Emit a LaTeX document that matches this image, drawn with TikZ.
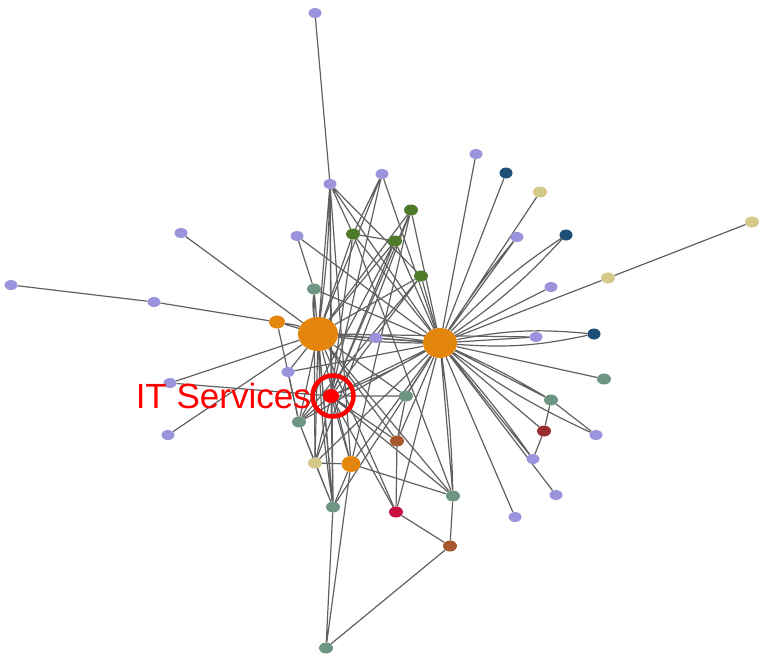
\documentclass[tikz,border=0pt]{standalone}
\usepackage{fontspec}
\newfontfamily\labelfont{Liberation Sans}
\usepackage{xcolor}
\usepackage{tikz}
\usetikzlibrary{shapes.geometric, positioning, backgrounds}

\definecolor{lavender}{HTML}{9B93DB}
\definecolor{navyblue}{HTML}{1F4E79}
\definecolor{khaki}{HTML}{D2C98A}
\definecolor{moss}{HTML}{4F7A2A}
\definecolor{sage}{HTML}{6E9482}
\definecolor{amber}{HTML}{E3860B}
\definecolor{rust}{HTML}{A6572B}
\definecolor{crimson}{HTML}{C8103E}
\definecolor{maroon}{HTML}{9A2B30}
\definecolor{linkgray}{HTML}{606060}

\tikzset{
  dot/.style={ellipse, inner sep=0pt, minimum width=13pt, minimum height=10pt},
  lav/.style={dot, fill=lavender},
  nav/.style={dot, fill=navyblue, minimum height=11pt},
  kha/.style={dot, fill=khaki, minimum width=14pt, minimum height=11pt},
  mos/.style={dot, fill=moss, minimum width=14pt, minimum height=11pt},
  sag/.style={dot, fill=sage, minimum width=14pt, minimum height=11pt},
  amb/.style={dot, fill=amber},
  rus/.style={dot, fill=rust, minimum width=14pt, minimum height=11pt},
  hub/.style={dot, fill=amber},
  link/.style={draw=linkgray, line width=1.2pt},
  ring/.style={circle, draw=red, line width=4.5pt, minimum size=41pt, inner sep=0pt},
  itlabel/.style={text=red, font=\labelfont\fontsize{35}{35}\selectfont, inner sep=0pt}
}

\begin{document}
\begin{tikzpicture}[x=1pt, y=-1pt]
  \useasboundingbox (0,0) rectangle (761,657);

  % hubs
  \node[hub, minimum width=40pt, minimum height=34pt] (hubA) at (318,334) {};
  \node[hub, minimum width=34pt, minimum height=30pt] (hubB) at (440,343) {};

  % lavender leaves
  \node[lav] (lavA) at (315,13) {};
  \node[lav] (lavB) at (330,184) {};
  \node[lav] (lavC) at (382,174) {};
  \node[lav] (lavD) at (297,236) {};
  \node[lav] (lavE) at (181,233) {};
  \node[lav] (lavF) at (11,285) {};
  \node[lav] (lavG) at (154,302) {};
  \node[lav] (lavH) at (376,338) {};
  \node[lav] (lavI) at (288,372) {};
  \node[lav] (lavJ) at (170,383) {};
  \node[lav] (lavK) at (168,435) {};
  \node[lav] (lavL) at (476,154) {};
  \node[lav] (lavM) at (517,237) {};
  \node[lav] (lavN) at (551,287) {};
  \node[lav] (lavO) at (536,337) {};
  \node[lav] (lavP) at (596,435) {};
  \node[lav] (lavQ) at (533,459) {};
  \node[lav] (lavR) at (556,495) {};
  \node[lav] (lavS) at (515,517) {};

  % other groups
  \node[nav] (navA) at (506,173) {};
  \node[nav] (navB) at (566,235) {};
  \node[nav] (navC) at (594,334) {};
  \node[kha] (khaA) at (540,192) {};
  \node[kha] (khaB) at (608,278) {};
  \node[kha] (khaC) at (752,222) {};
  \node[kha] (khaD) at (315,463) {};
  \node[mos] (mosA) at (411,210) {};
  \node[mos] (mosB) at (353,234) {};
  \node[mos] (mosC) at (395,241) {};
  \node[mos] (mosD) at (421,276) {};
  \node[sag] (sagA) at (314,289) {};
  \node[sag] (sagB) at (299,422) {};
  \node[sag] (sagC) at (406,396) {};
  \node[sag] (sagD) at (333,507) {};
  \node[sag] (sagE) at (453,496) {};
  \node[sag] (sagF) at (604,379) {};
  \node[sag] (sagG) at (551,400) {};
  \node[sag] (sagH) at (326,648) {};
  \node[amb, minimum width=16pt, minimum height=13pt] (ambA) at (277,322) {};
  \node[amb, minimum width=19pt, minimum height=16pt] (ambB) at (351,464) {};
  \node[rus] (rusA) at (397,441) {};
  \node[rus] (rusB) at (450,546) {};
  \node[dot, fill=crimson, minimum width=14pt, minimum height=11pt] (crim) at (396,512) {};
  \node[dot, fill=maroon, minimum width=14pt, minimum height=11pt] (maro) at (544,431) {};

  % highlighted node
  \node[dot, fill=red, minimum width=16pt, minimum height=14pt] (it) at (331,396) {};
  \node[ring] (itring) at (333,396) {};
  \node[itlabel, anchor=base east] (itname) at (311,408) {IT Services};

  \begin{scope}[on background layer]
    % upper left part
    \draw[link] (lavA) -- (lavB) (lavB) -- (hubA) (lavB) to[bend left=3] (hubA) (lavB) -- (it) (lavB) -- (sagD) (lavB) -- (ambB);
    \draw[link] (lavB) -- (mosB) (lavB) -- (hubB) (lavB) -- (mosD) (lavC) -- (mosB) (lavC) -- (hubA) (lavC) -- (hubB) (lavC) -- (it);
    \draw[link] (lavD) -- (sagA) (lavD) -- (hubB) (lavE) -- (hubA) (lavF) -- (lavG) (lavG) -- (ambA);
    \draw[link] (ambA) -- (hubA) (ambA) to[bend left=6] (hubA) (ambA) -- (sagB) (lavJ) -- (hubA) (lavJ) -- (it) (lavK) -- (hubA);
    \draw[link] (lavH) -- (hubA) (lavH) -- (hubB) (lavI) -- (hubA) (lavI) -- (hubB) (lavI) -- (sagB);
    % moss group
    \draw[link] (mosA) -- (hubA) (mosA) -- (hubB) (mosA) -- (it) (mosB) -- (mosC) (mosB) -- (hubA) (mosB) -- (hubB);
    \draw[link] (mosB) -- (sagE) (mosB) -- (it) (mosC) -- (hubA) (mosC) -- (hubB) (mosC) -- (it) (mosC) -- (sagB);
    \draw[link] (mosD) -- (hubA) (mosD) -- (hubB) (mosD) -- (it) (mosA) -- (ambB) (mosA) -- (khaD) (mosD) -- (sagB);
    \draw[link] (sagA) -- (hubA) (sagA) to[bend right=8] (hubA) (sagA) -- (hubB) (sagA) -- (khaD) (sagA) -- (sagD);
    % fan of hubB
    \draw[link] (hubB) -- (lavL) (hubB) -- (navA) (hubB) -- (khaA) (hubB) -- (lavM) (hubB) to[bend left=3] (lavM);
    \draw[link] (hubB) to[bend left=6] (navB) (hubB) to[bend right=6] (navB) (hubB) -- (khaB) (khaB) -- (khaC);
    \draw[link] (hubB) -- (lavN) (hubB) -- (lavO) (hubB) to[bend left=8] (navC) (hubB) to[bend right=8] (navC);
    \draw[link] (hubB) -- (sagF) (hubB) -- (sagG) (hubB) to[bend left=3] (sagG) (sagG) -- (maro) (sagG) -- (lavP);
    \draw[link] (hubB) to[bend right=5] (lavP) (hubB) -- (maro) (maro) -- (lavQ) (hubB) -- (lavQ) (hubB) to[bend left=3] (lavQ);
    \draw[link] (hubB) -- (lavR) (hubB) -- (lavS) (hubB) -- (sagE) (hubB) to[bend left=3] (sagE);
    % between the hubs
    \draw[link] (hubA) -- (hubB) (hubA) to[bend left=4] (hubB) (hubA) to[bend right=4] (hubB) (hubA) -- (lavO);
    % lower part
    \draw[link] (hubB) -- (it) (hubB) to[bend left=4] (it) (hubB) -- (sagB) (hubB) -- (khaD) (hubB) -- (ambB);
    \draw[link] (hubB) -- (sagD) (hubB) -- (crim) (hubB) -- (rusA) (hubB) -- (sagC);
    \draw[link] (it) -- (sagC) (it) -- (sagB) (it) -- (khaD) (it) -- (ambB) (it) -- (sagD) (it) -- (crim) (it) -- (rusA) (it) -- (sagE);
    \draw[link] (hubA) -- (sagB) (hubA) -- (khaD) (hubA) -- (ambB) (hubA) -- (sagD) (hubA) to[bend right=3] (sagD);
    \draw[link] (hubA) -- (crim) (hubA) -- (rusA) (hubA) -- (sagE) (hubA) -- (sagC) (sagC) -- (rusA) (rusA) -- (crim);
    \draw[link] (ambB) -- (khaD) (ambB) -- (sagE) (ambB) -- (sagD) (khaD) -- (sagD) (sagB) -- (sagD) (sagB) -- (khaD);
    \draw[link] (crim) -- (rusB) (sagE) -- (rusB) (sagH) -- (sagD) (sagH) -- (ambB) (sagH) -- (rusB);
  \end{scope}
\end{tikzpicture}
\end{document}
